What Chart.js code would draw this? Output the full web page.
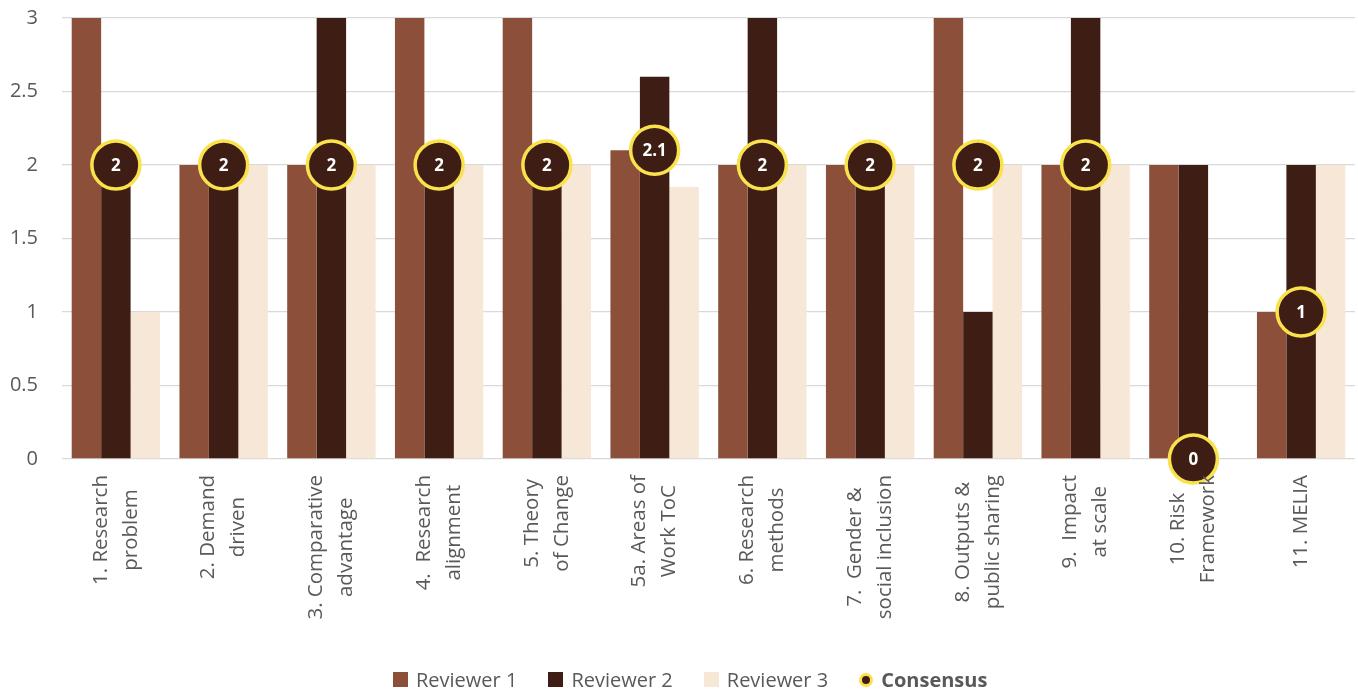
<!DOCTYPE html>
<html>
<head>
<meta charset="utf-8">
<title>Reviewer scores</title>
<script src="https://cdn.jsdelivr.net/npm/chart.js@4.4.1/dist/chart.umd.min.js"></script>
<style>
  html, body { margin: 0; padding: 0; background: #fff; }
  #wrap { position: relative; width: 1358px; height: 693px; }
  #legend {
    position: absolute; left: 393px; top: 666px;
    display: flex; align-items: center;
    font-family: 'Open Sans', sans-serif; font-size: 20px; color: #595959;
  }
  .item { display: flex; align-items: center; margin-right: 31px; }
  .box { width: 15px; height: 15px; margin-right: 8px; }
  .dot {
    width: 8px; height: 8px; border-radius: 50%; margin-right: 8px;
    background: #3e1d14; border: 3px solid #f9e24c;
  }
</style>
</head>
<body>
<div id="wrap">
  <canvas id="scores"></canvas>
  <div id="legend">
    <div class="item"><span class="box" style="background:#8c503a"></span>Reviewer 1</div>
    <div class="item"><span class="box" style="background:#3e1d14"></span>Reviewer 2</div>
    <div class="item"><span class="box" style="background:#f6e7d6"></span>Reviewer 3</div>
    <div class="item"><span class="dot"></span><b>Consensus</b></div>
  </div>
</div>
<script>
const categories = [
    ['1. Research', 'problem'],
    ['2. Demand', 'driven'],
    ['3. Comparative', 'advantage'],
    ['4.  Research', 'alignment'],
    ['5. Theory', 'of Change'],
    ['5a. Areas of', 'Work ToC'],
    ['6. Research', 'methods'],
    ['7.  Gender &', 'social inclusion'],
    ['8. Outputs &', 'public sharing'],
    ['9.  Impact', 'at scale'],
    ['10. Risk', 'Framework'],
    ['11. MELIA']
];
const reviewer1 = [3, 2, 2, 3, 3, 2.1, 2, 2, 3, 2, 2, 1];
const reviewer2 = [2, 2, 3, 2, 2, 2.6, 3, 2, 1, 3, 2, 2];
const reviewer3 = [1, 2, 2, 2, 2, 1.85, 2, 2, 2, 2, 0, 2];
const consensus = [2, 2, 2, 2, 2, 2.1, 2, 2, 2, 2, 0, 1];
const yTicks = [0, 0.5, 1, 1.5, 2, 2.5, 3];

const fontFamily = "'Open Sans', sans-serif";
Chart.defaults.font.family = fontFamily;

// Rotated category labels, each line centred on the others
const categoryLabels = {
    id: 'categoryLabels',
    afterDraw(chart) {
        const ctx = chart.ctx;
        const xScale = chart.scales.x;
        const top = chart.chartArea.bottom + 16;
        const lineHeight = 30;
        ctx.save();
        ctx.font = '20.5px ' + fontFamily;
        ctx.fillStyle = '#595959';
        ctx.textAlign = 'center';
        ctx.textBaseline = 'middle';
        categories.forEach((lines, i) => {
            const x = xScale.getPixelForTick(i);
            const widest = Math.max(...lines.map(l => ctx.measureText(l).width));
            ctx.save();
            ctx.translate(x, top);
            ctx.rotate(-Math.PI / 2);
            lines.forEach((line, j) => {
                ctx.fillText(line, -widest / 2, (j - (lines.length - 1) / 2) * lineHeight);
            });
            ctx.restore();
        });
        ctx.restore();
    }
};

// Values written inside the consensus markers
const consensusValues = {
    id: 'consensusValues',
    afterDatasetsDraw(chart) {
        const ctx = chart.ctx;
        const meta = chart.getDatasetMeta(3);
        ctx.save();
        ctx.font = 'bold 17px ' + fontFamily;
        ctx.fillStyle = '#ffffff';
        ctx.textAlign = 'center';
        ctx.textBaseline = 'middle';
        meta.data.forEach((pt, i) => {
            ctx.fillText(String(consensus[i]), pt.x, pt.y + 1);
        });
        ctx.restore();
    }
};

const chart = new Chart(document.getElementById('scores'), {
    type: 'bar',
    data: {
        labels: categories.map(c => c.join(' ')),
        datasets: [
            { label: 'Reviewer 1', data: reviewer1, backgroundColor: '#8c503a', order: 1 },
            { label: 'Reviewer 2', data: reviewer2, backgroundColor: '#3e1d14', order: 1 },
            { label: 'Reviewer 3', data: reviewer3, backgroundColor: '#f6e7d6', order: 1 },
            {
                label: 'Consensus',
                type: 'line',
                data: consensus,
                showLine: false,
                order: 0,
                clip: false,
                pointRadius: 24,
                pointHoverRadius: 24,
                pointBorderWidth: 3.5,
                pointBackgroundColor: '#3e1d14',
                pointBorderColor: '#f9e24c'
            }
        ]
    },
    options: {
        responsive: true,
        maintainAspectRatio: false,
        animation: false,
        layout: { autoPadding: false, padding: { top: 18, right: 3, left: 8, bottom: 234 } },
        datasets: { bar: { categoryPercentage: 0.82, barPercentage: 1.0 } },
        plugins: { legend: { display: false }, tooltip: { enabled: false } },
        scales: {
            x: {
                ticks: { display: false },
                grid: { display: false, drawTicks: false },
                border: { display: false }
            },
            y: {
                min: 0,
                max: 3,
                afterBuildTicks: axis => { axis.ticks = yTicks.map(v => ({ value: v })); },
                afterFit: axis => {
                    axis.width = 54;
                    axis.paddingTop = 0;
                    axis.paddingBottom = 0;
                },
                ticks: { color: '#595959', font: { size: 20 }, padding: 24, callback: v => String(v) },
                grid: { color: '#d9d9d9', lineWidth: 1.3, drawTicks: false },
                border: { display: false }
            }
        }
    },
    plugins: [categoryLabels, consensusValues]
});
</script>
</body>
</html>
